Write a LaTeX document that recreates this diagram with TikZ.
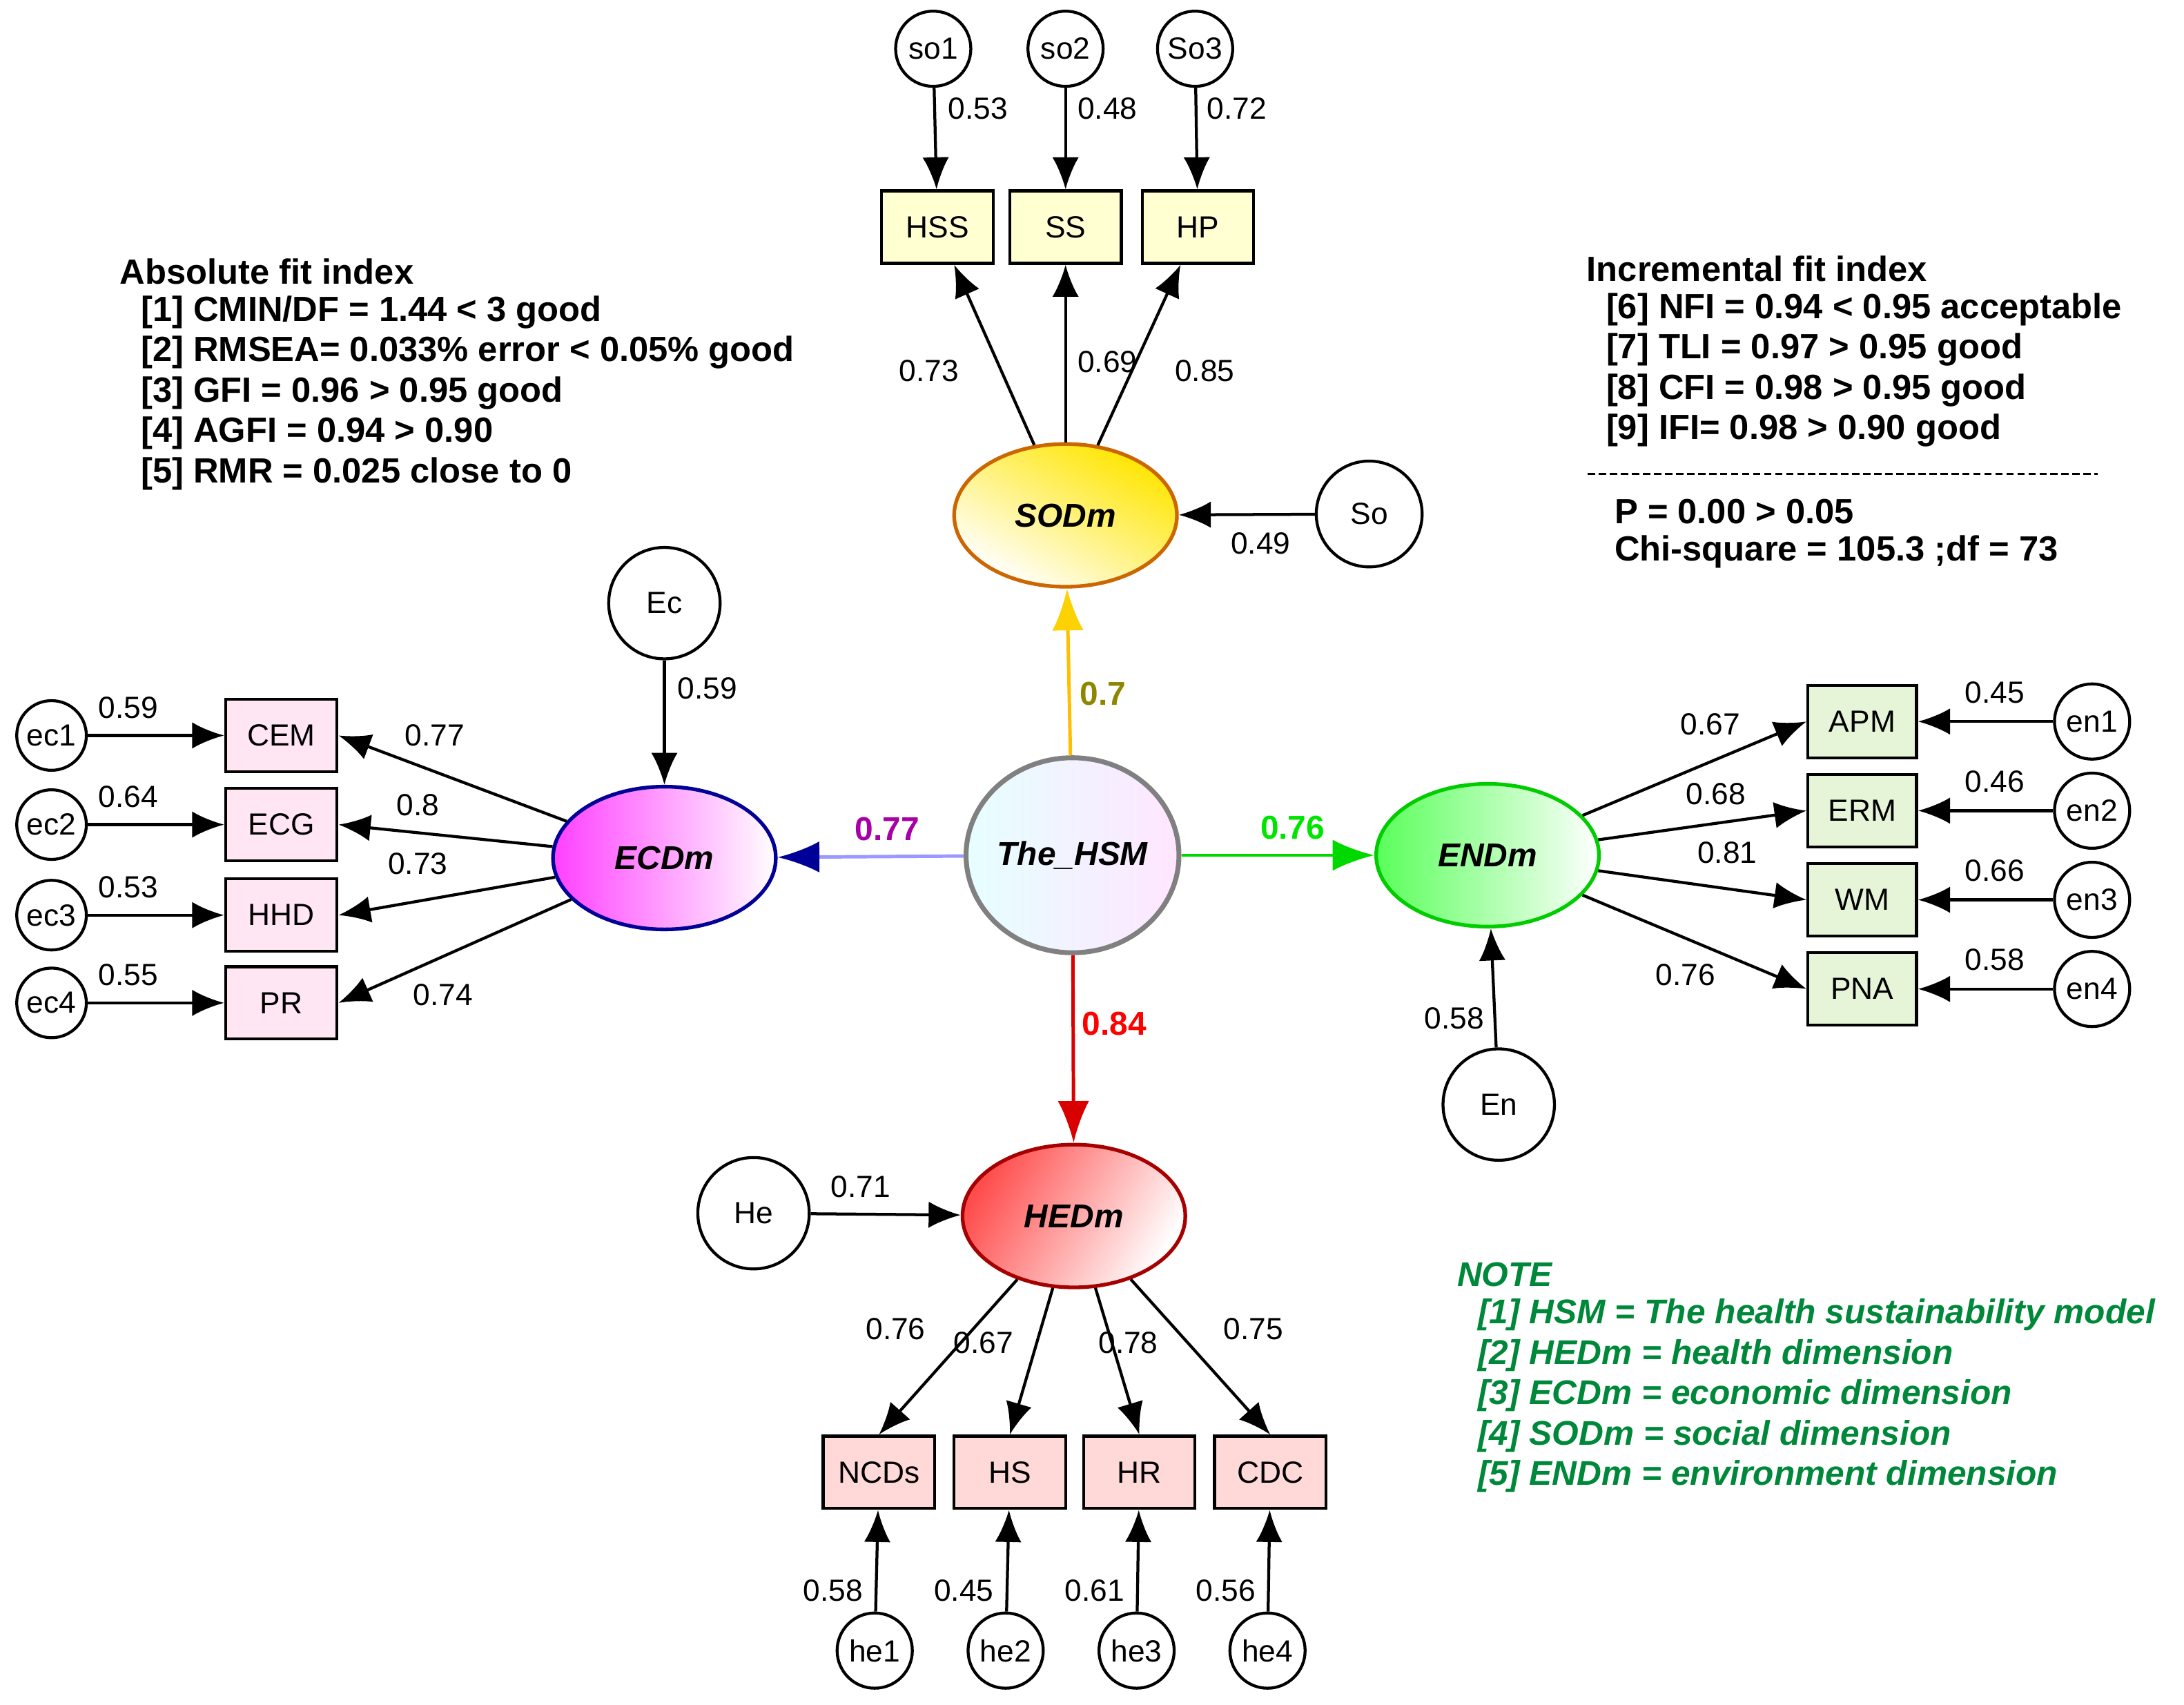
\documentclass[tikz,border=0pt]{standalone}
\usepackage{fontspec}
\setmainfont{Liberation Sans}
\usetikzlibrary{arrows.meta,shapes.geometric}
\definecolor{soB}{HTML}{FFFFD2}
\definecolor{ecB}{HTML}{FFE6F2}
\definecolor{enB}{HTML}{E6F5D8}
\definecolor{heB}{HTML}{FFD8D8}
\definecolor{noteG}{HTML}{00883A}
\begin{document}
\begin{tikzpicture}[x=0.02cm,y=-0.02cm,
  every node/.style={font=\fontsize{12.5}{15}\selectfont},
  box/.style={draw,line width=1.2pt,minimum width=1.6cm,minimum height=1.04cm,inner sep=0pt},
  sc/.style={draw,circle,line width=1.2pt,fill=white,minimum size=1.08cm,inner sep=0pt},
  bc/.style={draw,circle,line width=1.2pt,fill=white,minimum size=1.6cm,inner sep=0pt},
  lat/.style={draw,ellipse,line width=1.5pt,minimum width=3.2cm,minimum height=2.05cm,inner sep=0pt,font=\fontsize{13.5}{16}\selectfont\bfseries\itshape},
  arr/.style={-{Latex[length=0.46cm,width=0.38cm]},line width=1.2pt},
  sarr/.style={-{Latex[length=0.6cm,width=0.45cm]},line width=1.4pt},
  lb/.style={font=\fontsize{12.5}{15}\selectfont},
  txt/.style={anchor=west,font=\fontsize{14.3}{17}\selectfont\bfseries},
  nt/.style={anchor=west,text=noteG,font=\fontsize{14}{17}\selectfont\bfseries\itshape}]
\useasboundingbox (0,0) rectangle (1568,1224);
% latent
\node[lat,draw=orange!80!black,top color=yellow!80!orange,bottom color=white,shading angle=-30] (SODm) at (765,370) {SODm};
\node[lat,draw=blue!60!black,left color=magenta!75,right color=white] (ECDm) at (477,616) {ECDm};
\node[lat,draw=green!80!black,left color=green!65,right color=white] (ENDm) at (1068,614) {ENDm};
\node[lat,draw=red!65!black,left color=red!70,right color=white,shading angle=60] (HEDm) at (771,873) {HEDm};
\node[lat,draw=gray,line width=2pt,minimum width=2.9cm,minimum height=2.8cm,left color=cyan!10,right color=magenta!10] (HSM) at (770,614) {The\_HSM};
% SO
\foreach \n/\t/\x in {HSS/HSS/673,SS/SS/765,HP/HP/860}{\node[box,fill=soB] (\n) at (\x,163) {\t};}
\node[sc] (so1) at (670,35) {so1};
\node[sc] (so2) at (765,35) {so2};
\node[sc] (so3) at (858,35) {So3};
\node[bc,minimum size=1.52cm] (So) at (983,369) {So};
\draw[arr] (so1) -- (HSS); \draw[arr] (so2) -- (SS); \draw[arr] (so3) -- (HP);
\draw[arr] (SODm) -- (HSS); \draw[arr] (SODm) -- (SS); \draw[arr] (SODm) -- (HP);
\draw[arr] (So) -- (SODm);
\node[lb] at (702,78) {0.53}; \node[lb] at (795,78) {0.48}; \node[lb] at (888,78) {0.72};
\node[lb] at (667,266) {0.73}; \node[lb] at (795,260) {0.69}; \node[lb] at (865,266) {0.85};
\node[lb] at (905,390) {0.49};
% EC
\foreach \n/\y in {CEM/528,ECG/592,HHD/657,PR/720}{\node[box,fill=ecB] (\n) at (202,\y) {\n};}
\foreach \n/\y in {ec1/528,ec2/592,ec3/657,ec4/720}{\node[sc,minimum size=1.0cm] (\n) at (37,\y) {\n};}
\node[bc] (Ec) at (477,433) {Ec};
\draw[arr] (ec1) -- (CEM); \draw[arr] (ec2) -- (ECG); \draw[arr] (ec3) -- (HHD); \draw[arr] (ec4) -- (PR);
\draw[arr] (ECDm) -- (CEM.east); \draw[arr] (ECDm) -- (ECG.east); \draw[arr] (ECDm) -- (HHD.east); \draw[arr] (ECDm) -- (PR.east);
\draw[arr] (Ec) -- (ECDm);
\node[lb] at (92,508) {0.59}; \node[lb] at (92,572) {0.64}; \node[lb] at (92,637) {0.53}; \node[lb] at (92,700) {0.55};
\node[lb] at (312,528) {0.77}; \node[lb] at (300,578) {0.8}; \node[lb] at (300,620) {0.73}; \node[lb] at (318,714) {0.74};
\node[lb] at (508,494) {0.59};
% EN
\foreach \n/\y in {APM/518,ERM/582,WM/646,PNA/710}{\node[box,fill=enB,minimum width=1.56cm] (\n) at (1337,\y) {\n};}
\foreach \n/\y in {en1/518,en2/582,en3/646,en4/710}{\node[sc] (\n) at (1502,\y) {\n};}
\node[bc] (En) at (1076,793) {En};
\draw[arr] (en1) -- (APM); \draw[arr] (en2) -- (ERM); \draw[arr] (en3) -- (WM); \draw[arr] (en4) -- (PNA);
\draw[arr] (ENDm) -- (APM.west); \draw[arr] (ENDm) -- (ERM.west); \draw[arr] (ENDm) -- (WM.west); \draw[arr] (ENDm) -- (PNA.west);
\draw[arr] (En) -- (ENDm);
\node[lb] at (1432,497) {0.45}; \node[lb] at (1432,561) {0.46}; \node[lb] at (1432,625) {0.66}; \node[lb] at (1432,689) {0.58};
\node[lb] at (1228,520) {0.67}; \node[lb] at (1232,570) {0.68}; \node[lb] at (1240,612) {0.81}; \node[lb] at (1210,700) {0.76};
\node[lb] at (1044,731) {0.58};
% HE
\foreach \n/\x in {NCDs/631,HS/725,HR/818,CDC/912}{\node[box,fill=heB] (\n) at (\x,1057) {\n};}
\foreach \n/\x in {he1/628,he2/722,he3/816,he4/910}{\node[sc] (\n) at (\x,1185) {\n};}
\node[bc] (He) at (541,871) {He};
\draw[arr] (he1) -- (NCDs); \draw[arr] (he2) -- (HS); \draw[arr] (he3) -- (HR); \draw[arr] (he4) -- (CDC);
\draw[arr] (HEDm) -- (NCDs.north); \draw[arr] (HEDm) -- (HS.north); \draw[arr] (HEDm) -- (HR.north); \draw[arr] (HEDm) -- (CDC.north);
\draw[arr] (He) -- (HEDm);
\node[lb] at (598,1142) {0.58}; \node[lb] at (692,1142) {0.45}; \node[lb] at (786,1142) {0.61}; \node[lb] at (880,1142) {0.56};
\node[lb] at (643,954) {0.76}; \node[lb] at (706,964) {0.67}; \node[lb] at (810,964) {0.78}; \node[lb] at (900,954) {0.75};
\node[lb] at (618,852) {0.71};
% structural
\draw[sarr,draw=orange!50!yellow,-{Latex[length=0.6cm,width=0.45cm,fill=yellow!70!orange,color=yellow!70!orange]}] (HSM) -- (SODm);
\draw[sarr,draw=blue!40,-{Latex[length=0.6cm,width=0.45cm,fill=blue!60!black,color=blue!60!black]}] (HSM) -- (ECDm);
\draw[sarr,draw=green!85!black] (HSM) -- (ENDm);
\draw[sarr,draw=red!85!black] (HSM) -- (HEDm);
\node[lb,font=\fontsize{13.5}{16}\selectfont\bfseries,text=olive] at (792,498) {0.7};
\node[lb,font=\fontsize{13.5}{16}\selectfont\bfseries,text=violet!70!magenta] at (637,595) {0.77};
\node[lb,font=\fontsize{13.5}{16}\selectfont\bfseries,text=green!90!black] at (928,594) {0.76};
\node[lb,font=\fontsize{13.5}{16}\selectfont\bfseries,text=red] at (800,735) {0.84};
% text
\node[txt] (a0) at (80,195) {Absolute fit index};
\node[txt] (a1) at (95,224) {[1] CMIN/DF = 1.44 < 3 good};
\node[txt] (a2) at (95,253) {[2] RMSEA= 0.033\% error < 0.05\% good};
\node[txt] (a3) at (95,282) {[3] GFI = 0.96 > 0.95 good};
\node[txt] (a4) at (95,311) {[4] AGFI = 0.94 > 0.90};
\node[txt] (a5) at (95,340) {[5] RMR = 0.025 close to 0};
\node[txt] (b0) at (1133,193) {Incremental fit index};
\node[txt] (b1) at (1147,222) {[6] NFI = 0.94 < 0.95 acceptable};
\node[txt] (b2) at (1147,251) {[7] TLI = 0.97 > 0.95 good};
\node[txt] (b3) at (1147,280) {[8] CFI = 0.98 > 0.95 good};
\node[txt] (b4) at (1147,309) {[9] IFI= 0.98 > 0.90 good};
\coordinate (d1) at (1140,340); \coordinate (d2) at (1506,340);
\draw[dash pattern=on 3pt off 1.5pt,line width=0.8pt] (d1) -- (d2);
\node[txt] (b5) at (1153,367) {P = 0.00 > 0.05};
\node[txt] (b6) at (1153,396) {Chi-square = 105.3 ;df = 73};
\node[nt] (n0) at (1040,915) {NOTE};
\node[nt] (n1) at (1055,944) {[1] HSM = The health sustainability model};
\node[nt] (n2) at (1055,973) {[2] HEDm = health dimension};
\node[nt] (n3) at (1055,1002) {[3] ECDm = economic dimension};
\node[nt] (n4) at (1055,1031) {[4] SODm = social dimension};
\node[nt] (n5) at (1055,1060) {[5] ENDm = environment dimension};
\end{tikzpicture}
\end{document}
